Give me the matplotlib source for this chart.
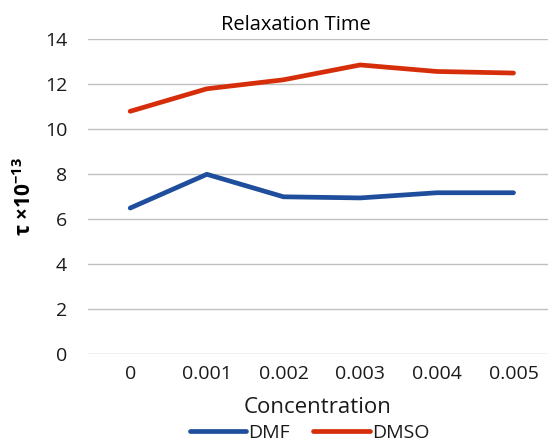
import matplotlib
matplotlib.use("Agg")
import matplotlib.pyplot as plt

categories = ["0", "0.001", "0.002", "0.003", "0.004", "0.005"]
dmf = [6.5, 8.0, 7.0, 6.95, 7.18, 7.18]
dmso = [10.8, 11.8, 12.2, 12.86, 12.57, 12.5]
yticks = [0, 2, 4, 6, 8, 10, 12, 14]

plt.rcParams['font.family'] = ['Open Sans', 'DejaVu Sans']
plt.rcParams['mathtext.fontset'] = 'custom'
plt.rcParams['mathtext.rm'] = 'Open Sans:bold'
plt.rcParams['mathtext.bf'] = 'Open Sans:bold'

fig = plt.figure(figsize=(5.48, 4.45), dpi=100)
ax = fig.add_axes([0.1606, 0.2038, 0.8394, 0.7079])
x = list(range(len(categories)))
ax.plot(x, dmf, color='#1f4e9c', lw=3.4, label='DMF', solid_capstyle='round', solid_joinstyle='round')
ax.plot(x, dmso, color='#d62e0a', lw=3.4, label='DMSO', solid_capstyle='round', solid_joinstyle='round')
ax.set_xlim(-0.55, 5.45)
ax.set_ylim(0, 14)
ax.set_yticks(yticks)
ax.set_xticks(x)
ax.set_xticklabels(categories)
ax.grid(axis='y', color='#c0c0c0', lw=1)
ax.set_axisbelow(True)
for s in ax.spines.values():
    s.set_visible(False)
ax.tick_params(length=0, labelsize=14, colors='#1a1a1a')
ax.tick_params(axis='y', pad=15)
ax.tick_params(axis='x', pad=8)
ax.text(0.452, 1.045, 'Relaxation Time', transform=ax.transAxes, ha='center', va='center',
        fontsize=14.5, color='#000000', fontweight='medium')
ax.set_xlabel('Concentration', fontsize=16, labelpad=10, color='#1a1a1a')
ax.set_ylabel(r'$\mathbf{\tau}$ ×10$^{-13}$', fontsize=15, labelpad=6, fontweight='bold')
leg = fig.legend(loc='lower center', bbox_to_anchor=(0.565, -0.032), ncol=2, frameon=False,
                 fontsize=14, handlelength=2.9, columnspacing=1.2, handletextpad=0.1)
for t in leg.get_texts():
    t.set_color('#1a1a1a')
fig.savefig('out.png', dpi=100)
